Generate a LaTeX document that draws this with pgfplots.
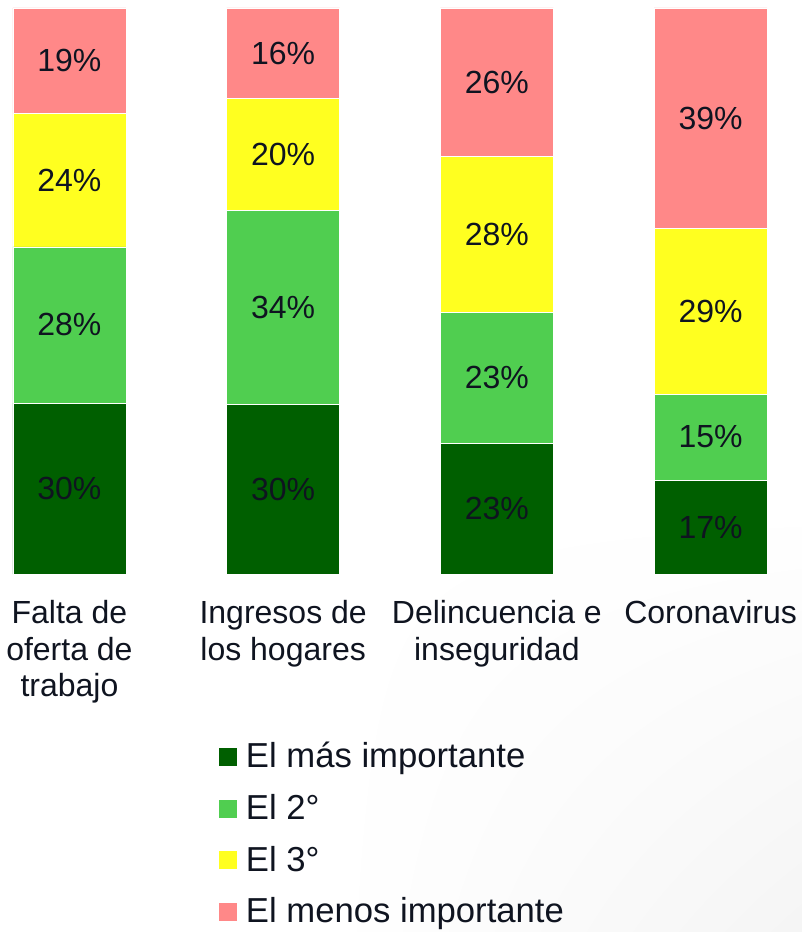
\documentclass[border=0pt]{standalone}
\usepackage{fontspec}
\setmainfont{Liberation Sans}
\usepackage{pgfplots}
\usepackage{pgfplotstable}
\usetikzlibrary{shadings}
\pgfplotsset{compat=1.18}
\definecolor{cA}{HTML}{005F00}
\definecolor{cB}{HTML}{50CE50}
\definecolor{cC}{HTML}{FFFF20}
\definecolor{cD}{HTML}{FF8888}
\definecolor{txt}{HTML}{0F1420}
\pgfplotstableread{
x  a    b    c    d
0  30.2 27.6 23.6 18.6
1  29.9 34.3 19.8 16.0
2  23.1 23.1 27.6 26.2
3  16.6 15.2 29.2 39.0
}\data
\begin{document}
\begin{tikzpicture}
\path[use as bounding box] (0pt,0pt) rectangle (601.5pt,699pt);
\shade[upper left=white, upper right=white, lower left=white, lower right=black!4] (250pt,0pt) rectangle (601.5pt,320pt);
\begin{axis}[
 at={(9.75pt,268.5pt)}, anchor=south west,
 scale only axis, width=565.5pt, height=424.5pt,
 ybar stacked, bar width=84.75pt,
 xmin=-0.264, xmax=3.264, ymin=0, ymax=100,
 enlargelimits=false, clip=false,
 axis line style={draw=none}, ytick=\empty,
 xtick={0,1,2,3},
 xticklabels={{Falta de\\oferta de\\trabajo},{Ingresos de\\los hogares},{Delincuencia e\\inseguridad},{Coronavirus}},
 major tick length=0pt,
 xticklabel style={align=center, inner sep=0pt, anchor=north, yshift=-19.5pt, font=\fontsize{24}{27.5}\selectfont, text=txt},
 /pgf/number format/assume math mode=true,
 point meta=explicit,
 nodes near coords={\pgfmathprintnumber[fixed,precision=0,assume math mode=true]{\pgfplotspointmeta}\%},
 every node near coord/.append style={anchor=center, font=\fontsize{24}{28}\selectfont, text=txt, inner sep=0pt},
 legend style={at={(0.2732,-0.2968)}, anchor=north west, draw=none, fill=none, inner sep=0pt, outer sep=0pt, row sep=13.9pt, column sep=6.75pt, nodes={inner sep=0pt, text height=19pt, text depth=6pt, font=\fontsize{26}{30}\selectfont, text=txt}},
 legend cell align=left,
 legend image code/.code={\fill[#1,draw=none] (0pt,-5.25pt) rectangle (13.5pt,8.25pt);},
]
\addplot[fill=cA, draw=white, line width=0.4pt] table[x=x,y=a,meta=a]{\data};
\addplot[fill=cB, draw=white, line width=0.4pt] table[x=x,y=b,meta=b]{\data};
\addplot[fill=cC, draw=white, line width=0.4pt] table[x=x,y=c,meta=c]{\data};
\addplot[fill=cD, draw=white, line width=0.4pt] table[x=x,y=d,meta=d]{\data};
\legend{El más importante, El 2°, El 3°, El menos importante}
\end{axis}
\end{tikzpicture}
\end{document}
